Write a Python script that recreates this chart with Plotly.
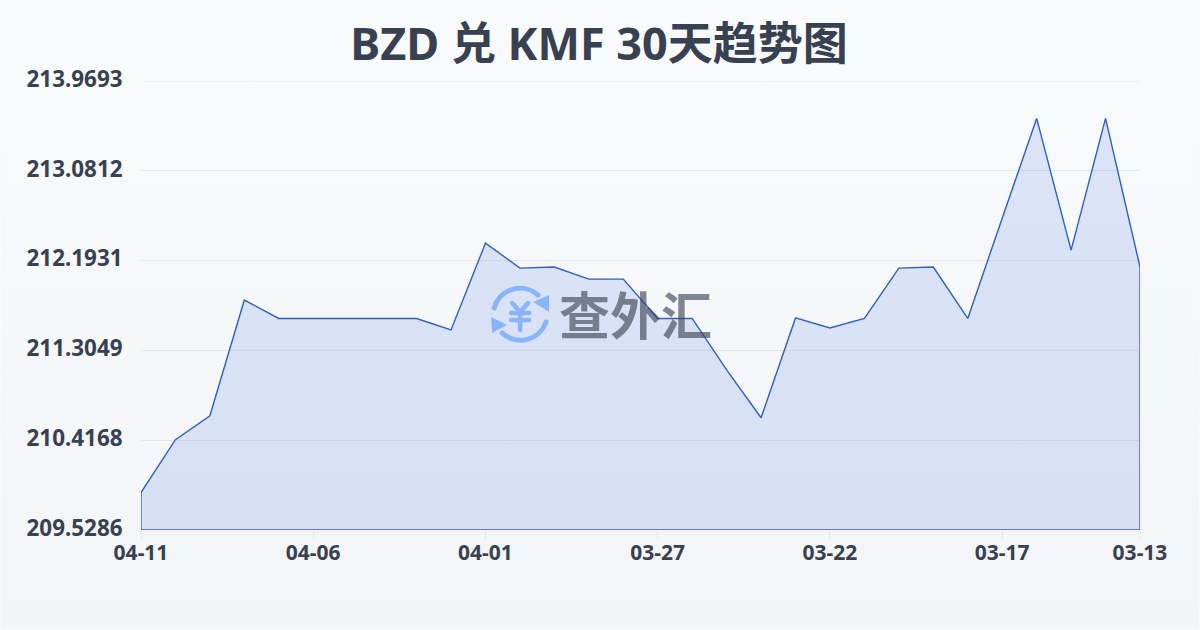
import base64
import plotly.graph_objects as go

dates = ["04-11","04-10","04-09","04-08","04-07","04-06","04-05","04-04","04-03","04-02",
         "04-01","03-31","03-30","03-29","03-28","03-27","03-26","03-25","03-24","03-23",
         "03-22","03-21","03-20","03-19","03-18","03-17","03-16","03-15","03-14","03-13"]
rates = [209.899,210.4217,210.6586,211.803,211.6207,211.6207,211.6207,211.6207,211.6207,211.507,
         212.3657,212.119,212.129,212.010,212.010,211.6207,211.6207,211.112,210.639,211.626,
         211.527,211.6207,212.119,212.129,211.6207,212.612,213.599,212.297,213.599,212.129]
y_ticks = [209.5286,210.4168,211.3049,212.1931,213.0812,213.9693]
y_labels = ["209.5286","210.4168","211.3049","212.1931","213.0812","213.9693"]
x_ticks = ["04-11","04-06","04-01","03-27","03-22","03-17","03-13"]

title_text = "BZD 兑 KMF 30天趋势图"
brand_text = "查外汇"

FONT = "'Noto Sans','Noto Sans CJK SC',sans-serif"
INK = "#374151"
L, T, PW, PH = 140.5, 80.5, 1000, 450

def svg_uri(s):
    return "data:image/svg+xml;base64," + base64.b64encode(s.encode()).decode()

bg_svg = ('<svg xmlns="http://www.w3.org/2000/svg" width="1200" height="630" preserveAspectRatio="none">'
          '<defs><linearGradient id="g" x1="0" y1="0" x2="0" y2="1">'
          '<stop offset="0" stop-color="#f8fafc"/><stop offset="1" stop-color="#f3f4f6"/>'
          '</linearGradient></defs><rect width="1200" height="630" fill="url(#g)"/></svg>')

logo_svg = ('<svg xmlns="http://www.w3.org/2000/svg" width="64" height="64" viewBox="0 0 64 64">'
            '<g fill="none" stroke="#8ab4f8" stroke-width="5" stroke-linecap="round" stroke-linejoin="round">'
            '<path d="M6 25 A27 27 0 0 1 50 12"/>'
            '<path d="M58 39 A27 27 0 0 1 14 50"/>'
            '<path d="M24 20 L32 29 L40 20 M23 30 H41 M23 37 H41 M32 29 V47" stroke-width="4.5"/>'
            '</g><g fill="#8ab4f8">'
            '<path d="M45 19 L61 12 L61 29 Z"/><path d="M3 34 L19 42 L4 50 Z"/>'
            '</g></svg>')

def px(x): return (x - L) / PW
def py(y): return (T + PH - y) / PH

fig = go.Figure()
fig.add_trace(go.Scatter(
    x=dates + [dates[-1], dates[0], dates[0]],
    y=rates + [y_ticks[0], y_ticks[0], rates[0]],
    mode="lines",
    fill="toself",
    fillcolor="rgba(59,110,220,0.15)",
    line=dict(color="#2f5fc4", width=1.4),
    cliponaxis=False,
    hoverinfo="skip",
    showlegend=False,
))

fig.update_layout(
    width=1200, height=630,
    autosize=False,
    margin=dict(l=L, r=1200-L-PW, t=T, b=630-T-PH),
    paper_bgcolor="#f8fafc",
    plot_bgcolor="rgba(0,0,0,0)",
    font=dict(family=FONT, color=INK),
    title=dict(text=f"<b>{title_text}</b>", x=0.4992, xanchor="center", y=0.93, yanchor="middle",
               font=dict(size=45, family=FONT, color=INK)),
    xaxis=dict(type="category", categoryorder="array", categoryarray=dates, range=[0, 29],
               tickmode="array", tickvals=x_ticks, ticktext=[f"<b>{t}</b>" for t in x_ticks],
               ticks="outside", ticklen=9, tickcolor="#e5e7eb", tickwidth=1,
               ticklabelstandoff=-5,
               showgrid=False, zeroline=False, showline=False,
               tickfont=dict(size=21, family=FONT, color=INK)),
    yaxis=dict(range=[y_ticks[0], y_ticks[-1]], tickmode="array", tickvals=y_ticks,
               ticktext=[f"<b>{t}</b>" for t in y_labels],
               ticks="outside", ticklen=13, tickcolor="rgba(0,0,0,0)",
               ticklabelshift=-2,
               showgrid=True, gridcolor="#e5e7eb", gridwidth=1, zeroline=False, showline=False,
               tickfont=dict(size=22.4, family=FONT, color=INK)),
    shapes=[dict(type="line", xref="paper", x0=0, x1=1, yref="y", y0=y_ticks[-1], y1=y_ticks[-1],
                 line=dict(color="#e5e7eb", width=1), layer="below")],
    images=[
        dict(source=svg_uri(bg_svg), xref="paper", yref="paper", layer="below",
             x=px(0), y=py(0), sizex=1200/PW, sizey=630/PH,
             xanchor="left", yanchor="top", sizing="stretch"),
        dict(source=svg_uri(logo_svg), xref="paper", yref="paper", layer="above",
             x=px(520), y=py(315), sizex=64/PW, sizey=64/PH,
             xanchor="center", yanchor="middle", sizing="stretch"),
    ],
    annotations=[
        dict(text=f"<b>{brand_text}</b>", xref="paper", yref="paper", showarrow=False,
             x=px(635.5), y=py(315), xanchor="center", yanchor="middle",
             font=dict(size=51, family=FONT, color="rgba(55,65,81,0.62)")),
    ],
)
fig.write_html("out.html", config={"displayModeBar": False},
               post_script="document.body.style.margin='0';document.documentElement.style.overflow='hidden';")
